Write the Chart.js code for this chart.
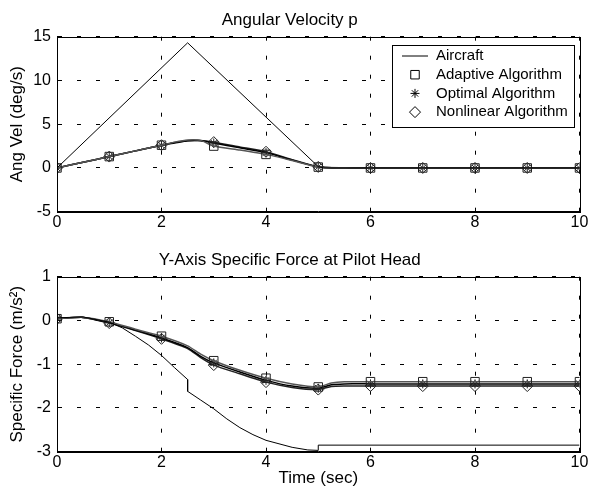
<!DOCTYPE html>
<html>
<head>
<meta charset="utf-8">
<script src="https://cdn.jsdelivr.net/npm/chart.js@4.4.1/dist/chart.umd.min.js"></script>
<style>
  html, body { margin: 0; padding: 0; background: #fff; }
  canvas { display: block; }
</style>
</head>
<body>
<canvas id="topChart" width="595" height="240"></canvas>
<canvas id="bottomChart" width="595" height="254"></canvas>
<script>
// Series names
const seriesNames = ['Aircraft', 'Adaptive Algorithm', 'Optimal Algorithm', 'Nonlinear Algorithm']

// ---- Top plot: Angular Velocity p ----
const topAircraftT = [0, 2.5, 5, 5.1, 10]
const topAircraftP = [0, 14.3, 0.15, 0, 0]

const topT = [0, 0.5, 1, 1.5, 2, 2.25, 2.5, 2.75, 3, 3.5, 4, 4.5, 5, 5.5, 6, 7, 8, 9, 10]
const topAdaptive  = [0, 0.65, 1.3, 1.95, 2.6, 2.95, 3.2, 3.15, 2.5, 2.05, 1.55, 0.85, 0.1, 0.02, 0, 0, 0, 0, 0]
const topOptimal   = [0, 0.65, 1.3, 1.95, 2.6, 2.85, 3.1, 3.1, 2.85, 2.3, 1.75, 0.9, 0.12, 0.02, 0, 0, 0, 0, 0]
const topNonlinear = [0, 0.65, 1.3, 1.95, 2.6, 2.9, 3.1, 3.15, 2.95, 2.4, 1.85, 0.95, 0.12, 0.02, 0, 0, 0, 0, 0]

// ---- Bottom plot: Y-Axis Specific Force at Pilot Head ----
const botAircraftT = [0, 0.5, 1, 1.25, 1.5, 1.75, 2, 2.25, 2.5, 2.5, 2.75, 3, 3.25, 3.5, 3.75, 4, 4.5, 4.8, 5, 5, 10]
const botAircraftF = [0.06, 0.08, -0.04, -0.17, -0.36, -0.56, -0.8, -1.08, -1.35, -1.62, -1.82, -2.02, -2.25, -2.45, -2.61, -2.74, -2.9, -2.96, -2.97, -2.85, -2.85]

const botT = [0, 0.5, 1, 1.5, 2, 2.5, 2.75, 3, 3.5, 4, 4.5, 5, 5.25, 5.5, 6, 7, 8, 9, 10]
const botAdaptive  = [0.04, 0.07, -0.03, -0.2, -0.36, -0.58, -0.77, -0.92, -1.14, -1.32, -1.45, -1.52, -1.43, -1.4, -1.4, -1.4, -1.4, -1.4, -1.4]
const botOptimal   = [0.04, 0.07, -0.05, -0.22, -0.4, -0.62, -0.82, -0.97, -1.18, -1.37, -1.5, -1.55, -1.47, -1.45, -1.45, -1.45, -1.45, -1.45, -1.45]
const botNonlinear = [0.04, 0.07, -0.06, -0.23, -0.42, -0.64, -0.85, -1.02, -1.22, -1.41, -1.53, -1.58, -1.51, -1.5, -1.5, -1.5, -1.5, -1.5, -1.5]

// Axis ticks
const xTicks = { min: 0, max: 10, step: 2 }
const topYTicks = { min: -5, max: 15, step: 5 }
const botYTicks = { min: -3, max: 1, step: 1 }

const FONT = "'Liberation Sans', Arial, sans-serif"

const toPoints = (xs, ys) => xs.map((x, i) => ({ x, y: ys[i] }))

// markers only at whole seconds
const markerRadius = r => ctx => Number.isInteger(ctx.raw.x) ? r : 0

const algoStyles = [
    { style: 'rect', radius: 6, line: '#555' },
    { style: 'star', radius: 4.5, line: '#000' },
    { style: 'rectRot', radius: 5.5, line: '#222' },
]

const makeDatasets = (acT, acV, t, algos) => {
    const sets = [{
        label: seriesNames[0],
        data: toPoints(acT, acV),
        borderColor: '#000',
        borderWidth: 1,
        pointRadius: 0,
    }]
    algos.forEach((vals, i) => {
        const s = algoStyles[i]
        sets.push({
            label: seriesNames[i + 1],
            data: toPoints(t, vals),
            borderColor: s.line,
            borderWidth: 1.5,
            tension: 0.2,
            pointStyle: s.style,
            pointRadius: markerRadius(s.radius),
            pointHoverRadius: 0,
            pointBorderColor: '#222',
            pointBackgroundColor: 'rgba(0,0,0,0)',
            pointBorderWidth: 1,
        })
    })
    return sets
}

// draw the box round the plot (top and right sides too)
const boxFrame = {
    id: 'boxFrame',
    afterDraw(chart) {
        const { ctx, chartArea: a } = chart
        ctx.save()
        ctx.strokeStyle = '#000'
        ctx.lineWidth = 1
        ctx.strokeRect(Math.round(a.left) + 0.5, Math.round(a.top) + 0.5,
            Math.round(a.right - a.left), Math.round(a.bottom - a.top))
        ctx.restore()
    }
}

// matlab-like boxed legend in the top right corner
const drawMarker = (ctx, style, x, y, r) => {
    ctx.beginPath()
    if (style === 'line') {
        ctx.moveTo(x - 13, y); ctx.lineTo(x + 13, y)
    } else if (style === 'rect') {
        const h = r * Math.SQRT1_2
        ctx.rect(x - h, y - h, 2 * h, 2 * h)
    } else if (style === 'rectRot') {
        ctx.moveTo(x, y - r); ctx.lineTo(x + r, y); ctx.lineTo(x, y + r); ctx.lineTo(x - r, y); ctx.closePath()
    } else if (style === 'star') {
        for (let k = 0; k < 4; k++) {
            const a = k * Math.PI / 4
            ctx.moveTo(x - r * Math.cos(a), y - r * Math.sin(a))
            ctx.lineTo(x + r * Math.cos(a), y + r * Math.sin(a))
        }
    }
    ctx.stroke()
}

const boxLegend = {
    id: 'boxLegend',
    afterDraw(chart, args, opts) {
        if (!opts.show) return
        const { ctx, chartArea: a } = chart
        const w = 182, h = 82
        const x0 = Math.round(a.right - 6 - w), y0 = Math.round(a.top + 8)
        ctx.save()
        ctx.fillStyle = '#fff'
        ctx.fillRect(x0, y0, w, h)
        ctx.strokeStyle = '#000'
        ctx.lineWidth = 1
        ctx.strokeRect(x0 + 0.5, y0 + 0.5, w, h)
        ctx.font = `15px ${FONT}`
        ctx.textBaseline = 'middle'
        ctx.fillStyle = '#000'
        const styles = ['line', ...algoStyles.map(s => s.style)]
        const radii = [0, 6, 4.5, 5.5]
        seriesNames.forEach((name, i) => {
            const cy = y0 + 11 + i * 18.7
            drawMarker(ctx, styles[i], x0 + 23, cy, radii[i])
            ctx.fillText(name, x0 + 44, cy)
        })
        ctx.restore()
    }
}

const makeOptions = (title, yTitle, yTicks, xTitle, xHeight, legend) => ({
    responsive: false,
    animation: false,
    devicePixelRatio: 1,
    layout: { padding: { left: 0, right: 15.5, top: 0, bottom: 0 } },
    plugins: {
        legend: { display: false },
        tooltip: { enabled: false },
        title: {
            display: true,
            text: title,
            color: '#000',
            font: { family: FONT, size: 17, weight: 'normal' },
            padding: { top: 10, bottom: 6.3 },
        },
        boxLegend: { show: legend },
    },
    scales: {
        x: {
            type: 'linear',
            min: xTicks.min,
            max: xTicks.max,
            afterFit: s => { s.height = xHeight },
            ticks: { stepSize: xTicks.step, color: '#000', padding: 1, font: { family: FONT, size: 16 } },
            grid: { color: '#000', lineWidth: 1, drawTicks: false },
            border: { color: '#000', width: 1, dash: [4, 15] },
            title: {
                display: !!xTitle,
                text: xTitle,
                color: '#000',
                font: { family: FONT, size: 17 },
                padding: { top: 0, bottom: 5 },
            },
        },
        y: {
            min: yTicks.min,
            max: yTicks.max,
            afterFit: s => { s.width = 57 },
            ticks: { stepSize: yTicks.step, color: '#000', padding: 6, font: { family: FONT, size: 16 } },
            grid: { color: '#000', lineWidth: 1, drawTicks: false },
            border: { color: '#000', width: 1, dash: [4, 15] },
            title: {
                display: true,
                text: yTitle,
                color: '#000',
                font: { family: FONT, size: 17 },
                padding: { top: 7, bottom: 0 },
            },
        },
    },
})

// Top chart
new Chart(document.getElementById('topChart'), {
    type: 'line',
    data: { datasets: makeDatasets(topAircraftT, topAircraftP, topT, [topAdaptive, topOptimal, topNonlinear]) },
    options: makeOptions('Angular Velocity p', 'Ang Vel (deg/s)', topYTicks, '', 28.3, true),
    plugins: [boxFrame, boxLegend],
})

// Bottom chart
new Chart(document.getElementById('bottomChart'), {
    type: 'line',
    data: { datasets: makeDatasets(botAircraftT, botAircraftF, botT, [botAdaptive, botOptimal, botNonlinear]) },
    options: makeOptions('Y-Axis Specific Force at Pilot Head', 'Specific Force (m/s²)', botYTicks, 'Time (sec)', 42.3, false),
    plugins: [boxFrame, boxLegend],
})
</script>
</body>
</html>
